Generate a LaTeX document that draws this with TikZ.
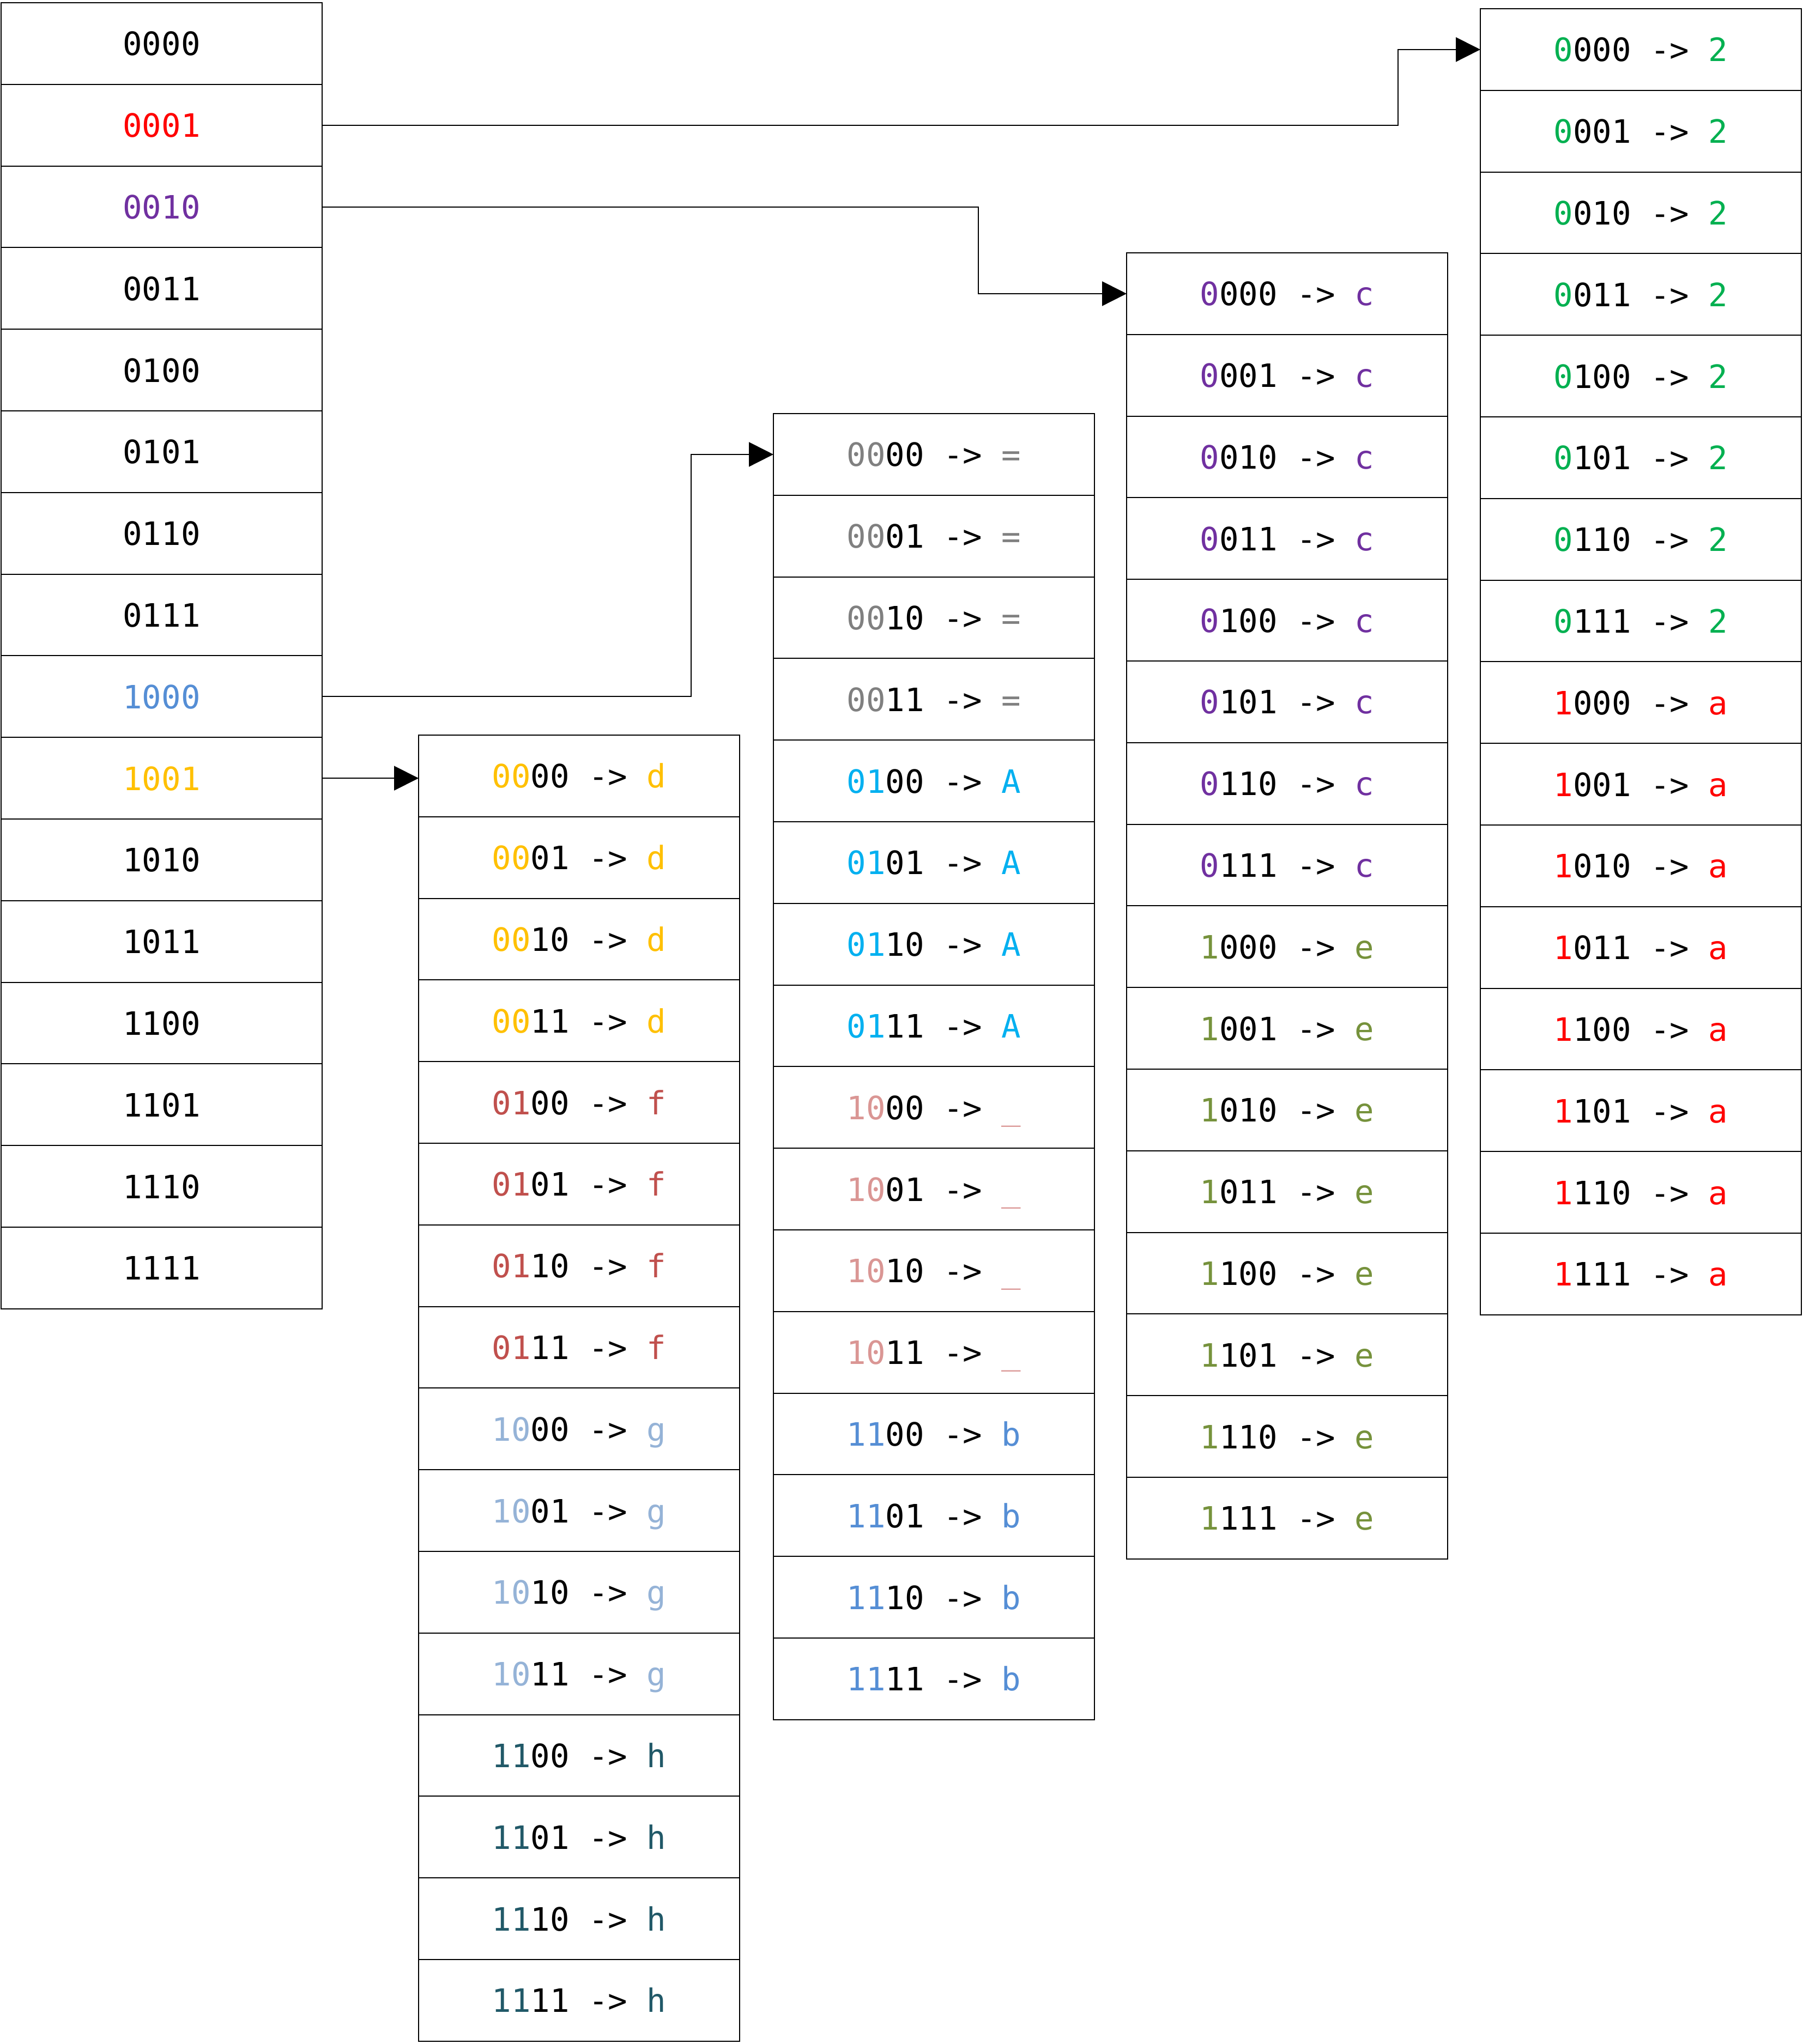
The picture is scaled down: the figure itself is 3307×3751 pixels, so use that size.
\documentclass[tikz,border=0pt]{standalone}
\usepackage{fontspec}
\setmonofont{DejaVu Sans Mono}
\usetikzlibrary{arrows.meta}
\definecolor{cred}{HTML}{FF0000}
\definecolor{cpurple}{HTML}{7030A0}
\definecolor{cblue}{HTML}{558ED5}
\definecolor{camber}{HTML}{FFC000}
\definecolor{cgreen}{HTML}{00B050}
\definecolor{colive}{HTML}{76923C}
\definecolor{cgray}{HTML}{808080}
\definecolor{ccyan}{HTML}{00B0F0}
\definecolor{cpink}{HTML}{DA9694}
\definecolor{cbrown}{HTML}{C0504D}
\definecolor{csteel}{HTML}{95B3D7}
\definecolor{cteal}{HTML}{215968}
\begin{document}
\begin{tikzpicture}[x=1pt,y=-1pt,
  cell/.style={draw=black, line width=2pt, minimum width=589pt, minimum height=149.8pt,
    inner sep=0pt, outer sep=0pt, anchor=north, text height=44pt, text depth=0pt,
    font=\ttfamily\fontsize{59}{70}\selectfont},
  link/.style={draw=black, line width=2pt, -{Triangle[length=45pt,width=45pt]}}]
\fill[white] (0,0) rectangle (3307,3751);
\useasboundingbox (0,0) rectangle (3307,3751);
% column 0
\foreach \xr/\xc [count=\i from 0] in {0000/black,0001/cred,0010/cpurple,0011/black,0100/black,0101/black,0110/black,0111/black,1000/cblue,1001/camber,1010/black,1011/black,1100/black,1101/black,1110/black,1111/black}{
  \node[cell] (c0r\i) at (296.5,{5+\i*149.8}) {\textcolor{\xc}{\xr}};
}
% column 1
\foreach \xp/\xv/\xc [count=\g from 0] in {00/d/camber,01/f/cbrown,10/g/csteel,11/h/cteal}{
  \foreach \xr [count=\k from 0] in {00,01,10,11}{
    \pgfmathtruncatemacro\i{4*(\g)+\k}
    \node[cell] (c1r\i) at (1062.5,{1349+\i*149.8}) {\textcolor{\xc}{\xp}\xr{} -> \textcolor{\xc}{\xv}};
  }
}
% column 2
\foreach \xp/\xv/\xc [count=\g from 0] in {00/=/cgray,01/A/ccyan,10/\_/cpink,11/b/cblue}{
  \foreach \xr [count=\k from 0] in {00,01,10,11}{
    \pgfmathtruncatemacro\i{4*(\g)+\k}
    \node[cell] (c2r\i) at (1713.5,{759+\i*149.8}) {\textcolor{\xc}{\xp}\xr{} -> \textcolor{\xc}{\xv}};
  }
}
% column 3
\foreach \xp/\xv/\xc [count=\g from 0] in {0/c/cpurple,1/e/colive}{
  \foreach \xr [count=\k from 0] in {000,001,010,011,100,101,110,111}{
    \pgfmathtruncatemacro\i{8*(\g)+\k}
    \node[cell] (c3r\i) at (2361.5,{464+\i*149.8}) {\textcolor{\xc}{\xp}\xr{} -> \textcolor{\xc}{\xv}};
  }
}
% column 4
\foreach \xp/\xv/\xc [count=\g from 0] in {0/2/cgreen,1/a/cred}{
  \foreach \xr [count=\k from 0] in {000,001,010,011,100,101,110,111}{
    \pgfmathtruncatemacro\i{8*(\g)+\k}
    \node[cell] (c4r\i) at (3010.5,{16+\i*149.8}) {\textcolor{\xc}{\xp}\xr{} -> \textcolor{\xc}{\xv}};
  }
}
% connectors
\coordinate (k1) at (2565,0);
\coordinate (k2) at (1795,0);
\coordinate (k3) at (1268,0);
\draw[link] (c0r1.east) -- (k1 |- c0r1.east) |- (c4r0.west);
\draw[link] (c0r2.east) -- (k2 |- c0r2.east) |- (c3r0.west);
\draw[link] (c0r8.east) -- (k3 |- c0r8.east) |- (c2r0.west);
\draw[link] (c0r9.east) -- (c0r9.east -| c1r0.west);
\end{tikzpicture}
\end{document}
